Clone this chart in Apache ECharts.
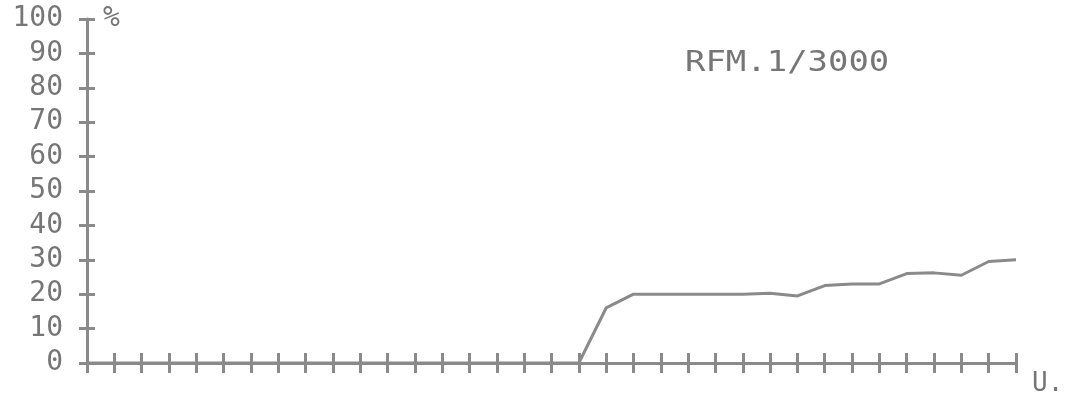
<!DOCTYPE html>
<html>
<head>
<meta charset="utf-8">
<script src="https://cdn.jsdelivr.net/npm/echarts@6/dist/echarts.min.js"></script>
<style>
html,body{margin:0;padding:0;background:#fff;}
#chart{width:1069px;height:400px;}
</style>
</head>
<body>
<div id="chart"></div>
<script>
// Data
const days = [0,1,2,3,4,5,6,7,8,9,10,11,12,13,14,15,16,17,18,19,20,21,22,23,24,25,26,27,28,29,30,31,32,33,34];
const percent = [0,0,0,0,0,0,0,0,0,0,0,0,0,0,0,0,0,0,0,16,20,20,20,20,20,20.3,19.5,22.5,23,23,26,26.2,25.5,29.5,30];
const titleText = 'RFM.1/3000';
const yName = '%';
const xName = 'U.';

const ink = '#767676';
const lineInk = '#8a8a8a';
const mono = '"DejaVu Sans Mono", "Liberation Mono", monospace';

const chart = echarts.init(document.getElementById('chart'), null, {renderer:'canvas'});
const seriesData = days.map((d, i) => [d, percent[i]]);

const tickStyle = {color: lineInk, width: 3};

chart.setOption({
  animation: false,
  backgroundColor: '#ffffff',
  grid: {left: 87, right: 53, top: 19, bottom: 37, containLabel: false, outerBoundsMode: 'none'},
  xAxis: [
    {
      type: 'value', min: 0, max: 34, interval: 1, position: 'bottom',
      splitLine: {show: false},
      axisLine: {show: true, onZero: false, lineStyle: {color: lineInk, width: 3}},
      axisTick: {show: true, inside: false, length: 10, lineStyle: tickStyle},
      axisLabel: {show: false},
      name: xName, nameLocation: 'end', nameGap: 16, nameMoveOverlap: false,
      nameTextStyle: {color: ink, fontFamily: mono, fontSize: 26, align: 'left', verticalAlign: 'top', padding: [8, 0, 0, 0]}
    },
    {
      type: 'value', min: 0, max: 34, interval: 1, position: 'bottom', offset: 0,
      splitLine: {show: false},
      axisLine: {show: false, onZero: false},
      axisTick: {show: true, inside: true, length: 10, lineStyle: tickStyle},
      axisLabel: {show: false}
    }
  ],
  yAxis: [
    {
      type: 'value', min: 0, max: 100, interval: 10, position: 'left',
      splitLine: {show: false},
      axisLine: {show: true, onZero: false, lineStyle: {color: lineInk, width: 3}},
      axisTick: {show: true, inside: false, length: 8, lineStyle: tickStyle},
      axisLabel: {show: true, margin: 24, color: ink, fontFamily: mono, fontSize: 28},
      name: yName, nameLocation: 'end', nameGap: 0, nameMoveOverlap: false,
      nameTextStyle: {color: ink, fontFamily: mono, fontSize: 28, align: 'left', verticalAlign: 'middle', padding: [0, 0, 0, 16]}
    },
    {
      type: 'value', min: 0, max: 100, interval: 10, position: 'left', offset: 0,
      splitLine: {show: false},
      axisLine: {show: false, onZero: false},
      axisTick: {show: true, inside: true, length: 8, lineStyle: tickStyle},
      axisLabel: {show: false}
    }
  ],
  graphic: [
    {
      type: 'text', x: 685, y: 49, scaleX: 1.17, scaleY: 1,
      style: {text: titleText, font: '29px ' + mono, fill: ink, textAlign: 'left', textVerticalAlign: 'top'}
    }
  ],
  series: [
    {
      type: 'line', xAxisIndex: 0, yAxisIndex: 0,
      data: seriesData,
      showSymbol: false, symbol: 'none',
      lineStyle: {color: lineInk, width: 3},
      z: 3
    },
    {
      // invisible copy bound to the inner-tick axes so they are laid out
      type: 'line', xAxisIndex: 1, yAxisIndex: 1,
      data: seriesData,
      showSymbol: false, symbol: 'none', silent: true,
      lineStyle: {opacity: 0},
      z: 1
    }
  ]
});
</script>
</body>
</html>
